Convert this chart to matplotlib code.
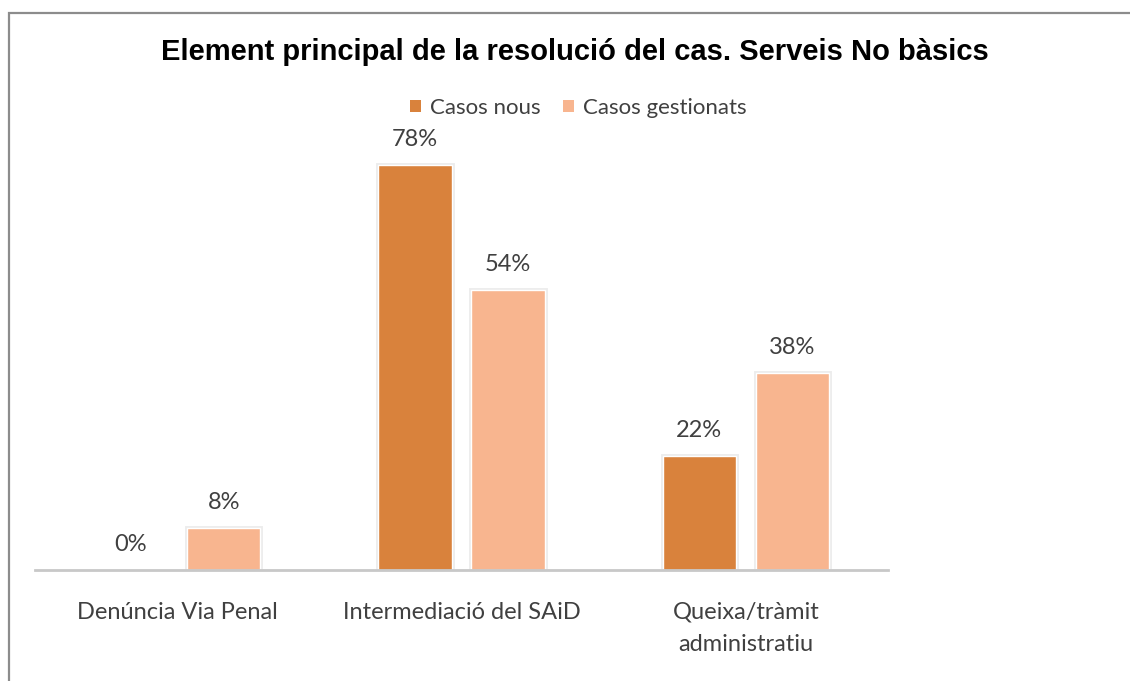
import matplotlib
matplotlib.use('Agg')
import matplotlib.pyplot as plt
import matplotlib.patheffects as pe
from matplotlib.patches import Rectangle
import numpy as np

# Chart data
categories = ['Denúncia Via Penal', 'Intermediació del SAiD', 'Queixa/tràmit\nadministratiu']
series_names = ['Casos nous', 'Casos gestionats']
casos_nous = [0, 78, 22]
casos_gestionats = [8, 54, 38]

color_nous = '#D9823C'
color_gest = '#F8B58F'
text_color = '#404040'

fig = plt.figure(figsize=(11.3, 6.81), dpi=100)
ax = fig.add_axes([35 / 1130, 111 / 681, 853 / 1130, 467 / 681])

# frame around the whole chart area
fig.patches.append(Rectangle((9 / 1130, -0.05), 1.1, 1 - 13 / 681 + 0.05,
                             transform=fig.transFigure, fill=False,
                             edgecolor='#8c8c8c', linewidth=1.6))

x = np.arange(len(categories))
width = 0.257
offset = 0.1636
glow = [pe.Stroke(linewidth=3.5, foreground='#ececec'), pe.Normal()]

bars1 = ax.bar(x - offset, casos_nous, width, color=color_nous,
               edgecolor='white', linewidth=1.0, label=series_names[0], zorder=2)
bars2 = ax.bar(x + offset, casos_gestionats, width, color=color_gest,
               edgecolor='white', linewidth=1.0, label=series_names[1], zorder=2)
for b in list(bars1) + list(bars2):
    if b.get_height() > 0:
        b.set_path_effects(glow)

for bars, vals in ((bars1, casos_nous), (bars2, casos_gestionats)):
    for b, v in zip(bars, vals):
        ax.annotate(f'{v}%', (b.get_x() + b.get_width() / 2, v),
                    xytext=(0, 11), textcoords='offset points',
                    ha='center', va='bottom', fontsize=17,
                    color=text_color, family='Lato')

ax.set_xlim(-0.5, 2.5)
ax.set_ylim(0, 90)
ax.set_xticks(x)
ax.set_xticklabels(categories, fontsize=17, color=text_color, family='Lato',
                   linespacing=1.65)
ax.tick_params(axis='x', length=0, pad=23)
ax.set_yticks([])
for s in ('top', 'right', 'left'):
    ax.spines[s].set_visible(False)
ax.spines['bottom'].set_color('#c8c8c8')
ax.spines['bottom'].set_linewidth(2)

fig.text(575 / 1130, 1 - 52 / 681, 'Element principal de la resolució del cas. Serveis No bàsics',
         ha='center', va='center', fontsize=21, fontweight='bold',
         family='Liberation Sans', color='#000000')

leg = fig.legend(handles=[bars1, bars2], labels=series_names,
                 loc='center', bbox_to_anchor=(578 / 1130, 1 - 108 / 681),
                 ncol=2, frameon=False, handlelength=0.5, handleheight=0.5,
                 handletextpad=0.4, columnspacing=1.0,
                 prop={'family': 'Lato', 'size': 16})
for t in leg.get_texts():
    t.set_color(text_color)
for h in leg.legend_handles:
    h.set_edgecolor('none')
    h.set_path_effects([])

fig.savefig('out.png', dpi=100)
